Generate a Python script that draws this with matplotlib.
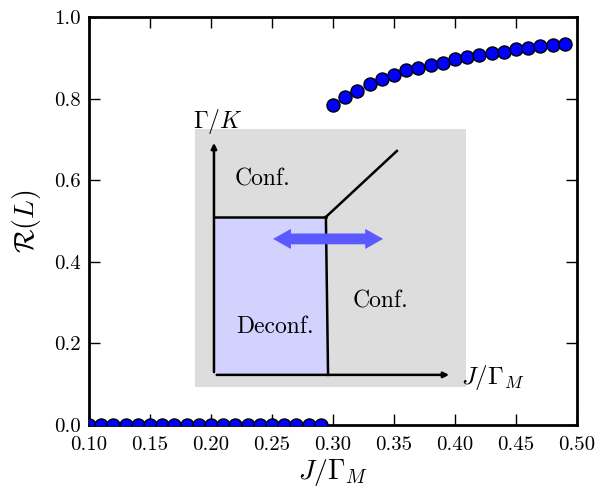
import numpy as np
import matplotlib
matplotlib.use("Agg")
import matplotlib.pyplot as plt
from matplotlib.patches import Rectangle, Polygon

plt.rcParams['font.family'] = 'serif'
plt.rcParams['font.serif'] = ['cmr10']
plt.rcParams['mathtext.fontset'] = 'cm'
plt.rcParams['axes.formatter.use_mathtext'] = True

# data
j_low = [0.10, 0.11, 0.12, 0.13, 0.14, 0.15, 0.16, 0.17, 0.18, 0.19,
         0.20, 0.21, 0.22, 0.23, 0.24, 0.25, 0.26, 0.27, 0.28, 0.29]
r_low = [0.0] * 20
j_high = [0.30, 0.31, 0.32, 0.33, 0.34, 0.35, 0.36, 0.37, 0.38, 0.39,
          0.40, 0.41, 0.42, 0.43, 0.44, 0.45, 0.46, 0.47, 0.48, 0.49]
r_high = [0.784, 0.805, 0.819, 0.837, 0.848, 0.858, 0.870, 0.876, 0.882, 0.888,
          0.896, 0.903, 0.907, 0.911, 0.915, 0.921, 0.923, 0.929, 0.931, 0.935]
xticks = [0.10, 0.15, 0.20, 0.25, 0.30, 0.35, 0.40, 0.45, 0.50]
yticks = [0.0, 0.2, 0.4, 0.6, 0.8, 1.0]

W, H = 608, 492
fig = plt.figure(figsize=(W / 100, H / 100), dpi=100)
ax = fig.add_axes([89 / W, 1 - 425 / H, (577 - 89) / W, (425 - 17) / H])

mk = dict(marker='o', ls='none', ms=9.4, mfc='#0000ff', mec='black', mew=1.0, zorder=3)
ax.plot(j_low, r_low, **mk)
ax.plot(j_high, r_high, **mk)

ax.set_xlim(0.10, 0.50)
ax.set_ylim(0.0, 1.0)
ax.set_xticks(xticks)
ax.set_yticks(yticks)
ax.set_xticklabels(['%.2f' % t for t in xticks])
ax.set_yticklabels(['%.1f' % t for t in yticks])
ax.tick_params(direction='in', length=8, width=1, top=True, right=True, labelsize=15)
ax.tick_params(axis='x', pad=8)
ax.tick_params(axis='y', pad=6)
for s in ax.spines.values():
    s.set_linewidth(2)
ax.set_xlabel(r'$J/\Gamma_M$', fontsize=20, labelpad=2)
ax.set_ylabel(r'$\mathcal{R}(L)$', fontsize=20, labelpad=8)

# inset phase diagram
ins = fig.add_axes([195 / W, 1 - 387 / H, (466 - 195) / W, (387 - 129) / H])
ins.set_facecolor('#dddddd')
ins.set_xlim(0, 1)
ins.set_ylim(0, 1)
ins.set_xticks([])
ins.set_yticks([])
for s in ins.spines.values():
    s.set_visible(False)

x0, y0 = 0.070, 0.047
ins.add_patch(Rectangle((x0, y0), 0.487 - x0, 0.659 - y0, facecolor='#d2d2ff', edgecolor='none'))
ins.plot([x0, 0.483], [0.659, 0.659], color='black', lw=1.8)
ins.plot([0.483, 0.491], [0.659, y0], color='black', lw=1.8)
ins.plot([0.483, 0.745], [0.659, 0.915], color='black', lw=1.8)
ins.annotate('', xy=(x0, 0.957), xytext=(x0, y0),
             arrowprops=dict(arrowstyle='-|>', lw=1.8, color='black', mutation_scale=8))
ins.annotate('', xy=(0.948, y0), xytext=(x0, y0),
             arrowprops=dict(arrowstyle='-|>', lw=1.8, color='black', mutation_scale=8))

# double-headed blue arrow
ax_l, ax_r, ay = 0.288, 0.694, 0.574
hl, hh, sh = 0.066, 0.039, 0.021
arrow = [(ax_l, ay), (ax_l + hl, ay + hh), (ax_l + hl, ay + sh), (ax_r - hl, ay + sh),
         (ax_r - hl, ay + hh), (ax_r, ay), (ax_r - hl, ay - hh), (ax_r - hl, ay - sh),
         (ax_l + hl, ay - sh), (ax_l + hl, ay - hh)]
ins.add_patch(Polygon(arrow, closed=True, facecolor='#5a5aff', edgecolor='none', zorder=4))

ins.text(0.25, 0.806, 'Conf.', fontsize=17, ha='center', va='center')
ins.text(0.683, 0.333, 'Conf.', fontsize=17, ha='center', va='center')
ins.text(0.295, 0.233, 'Deconf.', fontsize=17, ha='center', va='center')

fig.text(218 / W, 1 - 121 / H, r'$\Gamma/K$', fontsize=17, ha='center', va='center')
fig.text(461 / W, 1 - 377 / H, r'$J/\Gamma_M$', fontsize=18, ha='left', va='center')

fig.savefig('out.png', dpi=100)
